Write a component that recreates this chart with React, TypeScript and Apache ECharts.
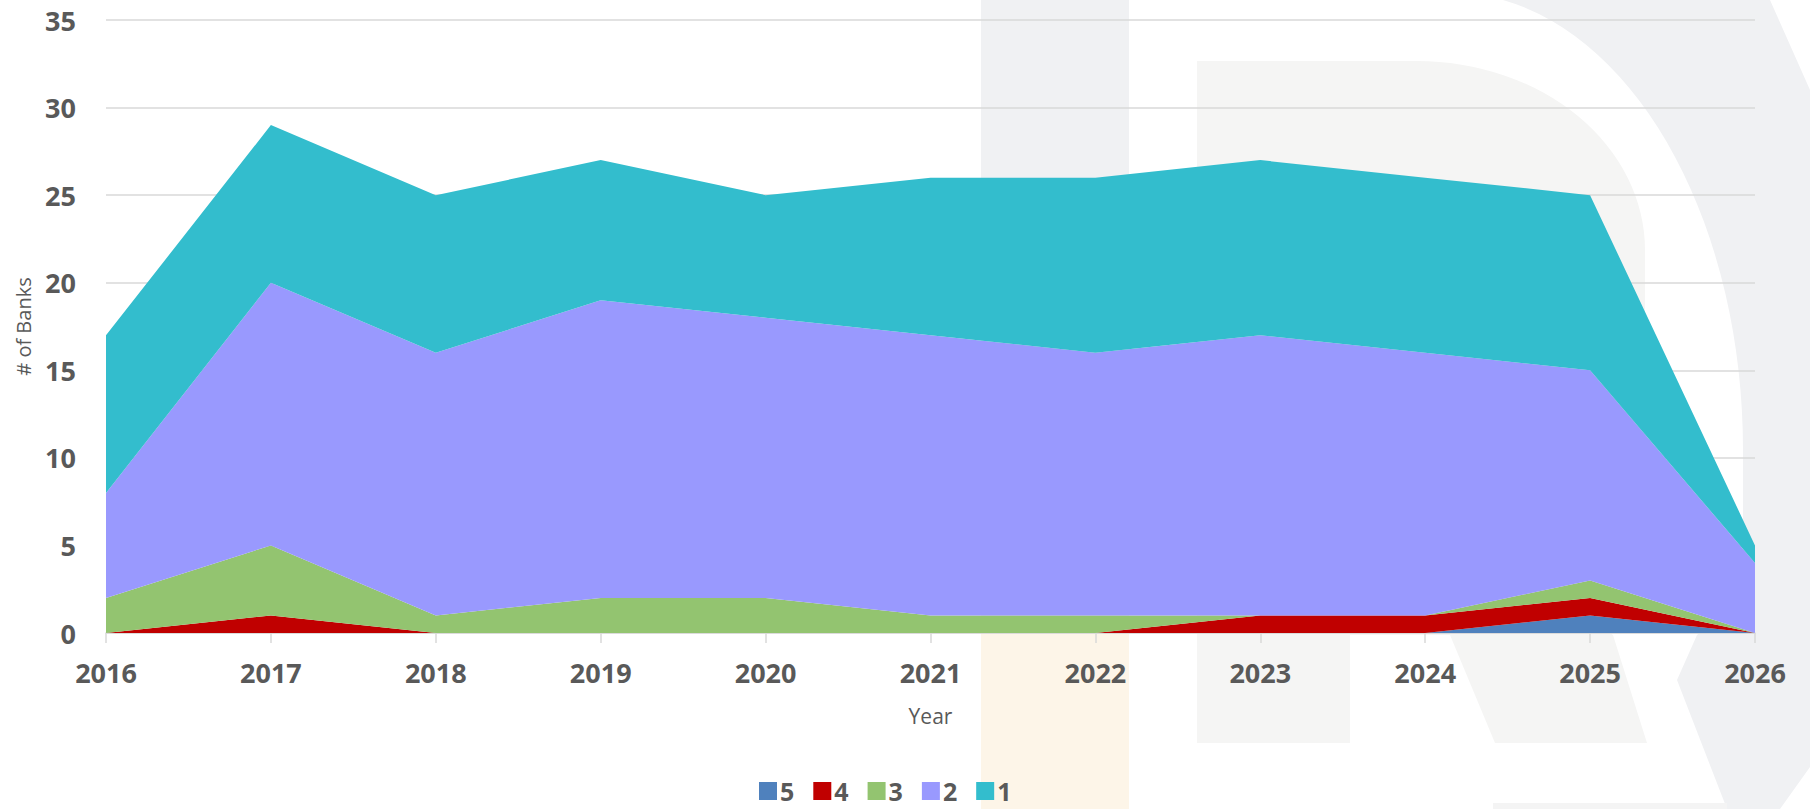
import React, { useEffect, useRef } from "react";
import * as echarts from "echarts";

const years = ["2016", "2017", "2018", "2019", "2020", "2021", "2022", "2023", "2024", "2025", "2026"];
const rating5 = [0, 0, 0, 0, 0, 0, 0, 0, 0, 1, 0];
const rating4 = [0, 1, 0, 0, 0, 0, 0, 1, 1, 1, 0];
const rating3 = [2, 4, 1, 2, 2, 1, 1, 0, 0, 1, 0];
const rating2 = [6, 15, 15, 17, 16, 16, 15, 16, 15, 12, 4];
const rating1 = [9, 9, 9, 8, 7, 9, 10, 10, 10, 10, 1];

const seriesNames = ["5", "4", "3", "2", "1"];
const seriesData = [rating5, rating4, rating3, rating2, rating1];
const seriesColors = ["#4f81bd", "#c00000", "#93c470", "#9999fe", "#33bdcd"];

const INNER_D =
  "M1197,61 H1417 A228,189 0 0 1 1645,250 V540 L1590,620 L1613,635 L1647,743 H1495 L1450,635 H1350 V743 H1197 Z";
const OUTER_D =
  "M1503,0 H1770 L1810,90 V767 L1780,809 H1727 L1677,680 L1697,635 L1743,600 V450 A293,457.5 0 0 0 1503,0 Z";

echarts.graphic.registerShape("wmInner", echarts.graphic.extendPath(INNER_D, {}) as any);
echarts.graphic.registerShape("wmOuter", echarts.graphic.extendPath(OUTER_D, {}) as any);

const FONT = "'Open Sans', 'Noto Sans', sans-serif";
const TXT = "#595959";

export default function App() {
  const ref = useRef<HTMLDivElement>(null);
  useEffect(() => {
    if (!ref.current) return;
    const chart = echarts.init(ref.current, undefined, { renderer: "svg" });
    chart.setOption({
      animation: false,
      backgroundColor: "#ffffff",
      textStyle: { fontFamily: FONT },
      graphic: [
        { type: "rect", z: -10, silent: true, shape: { x: 981, y: 0, width: 148, height: 633 }, style: { fill: "#f0f1f3" } },
        { type: "rect", z: -10, silent: true, shape: { x: 981, y: 633, width: 148, height: 176 }, style: { fill: "#fdf5e8" } },
        { type: "wmOuter", z: -10, silent: true, x: 0, y: 0, scaleX: 1, scaleY: 1, style: { fill: "#f0f1f3" } },
        { type: "wmInner", z: -10, silent: true, x: 0, y: 0, scaleX: 1, scaleY: 1, style: { fill: "#f5f5f4" } },
        { type: "rect", z: -10, silent: true, shape: { x: 1493, y: 803, width: 234, height: 6 }, style: { fill: "#f4f4f4" } },
      ],
      grid: { left: 106, right: 55, top: 20, bottom: 176, containLabel: false },
      legend: {
        data: seriesNames,
        left: 759,
        top: 778,
        padding: 0,
        itemWidth: 18,
        itemHeight: 18,
        itemGap: 19,
        icon: "rect",
        textStyle: { fontFamily: FONT, fontSize: 25, lineHeight: 26, fontWeight: "bold", color: TXT, padding: [0, 0, 0, -2] },
      },
      xAxis: {
        type: "category",
        data: years,
        boundaryGap: false,
        name: "Year",
        nameLocation: "middle",
        nameGap: 72,
        nameTextStyle: { fontFamily: FONT, fontSize: 21, color: TXT },
        axisLine: { show: true, lineStyle: { color: "#d9d9d9", width: 1.5 } },
        axisTick: { show: true, length: 10, lineStyle: { color: "#d9d9d9", width: 1.5 } },
        axisLabel: { fontFamily: FONT, fontSize: 27, fontWeight: "bold", color: TXT, margin: 26 },
        splitLine: { show: false },
      },
      yAxis: {
        type: "value",
        min: 0,
        max: 35,
        interval: 5,
        name: "# of Banks",
        nameLocation: "middle",
        nameGap: 73,
        nameTextStyle: { fontFamily: FONT, fontSize: 20, color: TXT },
        axisLine: { show: false },
        axisTick: { show: false },
        axisLabel: { fontFamily: FONT, fontSize: 27, fontWeight: "bold", color: TXT, margin: 30 },
        splitLine: { show: true, lineStyle: { color: "#d9d9d9", width: 1.5 } },
      },
      series: seriesNames.map((name, i) => ({
        name,
        type: "line",
        stack: "total",
        data: seriesData[i],
        symbol: "none",
        showSymbol: false,
        lineStyle: { width: 0 },
        itemStyle: { color: seriesColors[i] },
        areaStyle: { color: seriesColors[i], opacity: 1 },
        z: 2 + i,
      })),
    });
    return () => chart.dispose();
  }, []);
  return (
    <div
      ref={ref}
      style={{ position: "absolute", left: 0, top: 0, width: 1810, height: 809 }}
    />
  );
}
